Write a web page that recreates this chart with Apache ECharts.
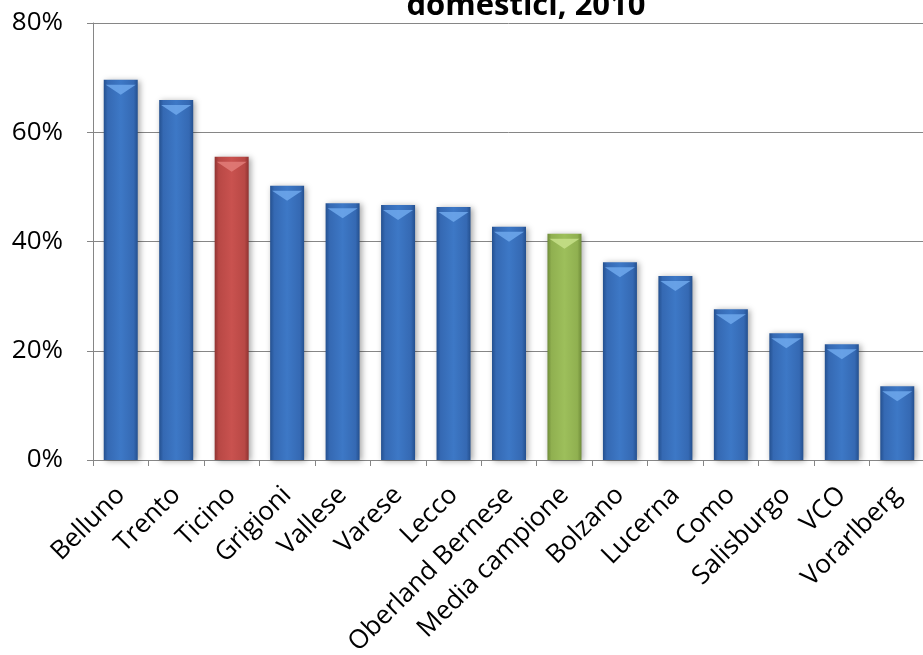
<!DOCTYPE html>
<html><head><meta charset="utf-8">
<script src="https://cdn.jsdelivr.net/npm/echarts@6/dist/echarts.min.js"></script>
<style>html,body{margin:0;padding:0;background:#fff}#c{width:923px;height:655px}</style>
</head><body><div id="c"></div>
<script>
const categories = ["Belluno","Trento","Ticino","Grigioni","Vallese","Varese","Lecco","Oberland Bernese","Media campione","Bolzano","Lucerna","Como","Salisburgo","VCO","Vorarlberg"];
const values = [69.6, 65.9, 55.5, 50.2, 47.0, 46.7, 46.3, 42.7, 41.4, 36.2, 33.7, 27.6, 23.2, 21.2, 13.5];
const yTicks = [0, 20, 40, 60, 80];
const titleText = "domestici, 2010";

function grad(dark, mid, light) {
  return {type:'linear', x:0, y:0, x2:1, y2:0, colorStops:[
    {offset:0, color:dark},{offset:0.12, color:mid},{offset:0.5, color:light},{offset:0.88, color:mid},{offset:1, color:dark}]};
}
const blue = grad('#24508f', '#3569b3', '#3d78c6');
const red = grad('#8f3331', '#b84845', '#c9524f');
const green = grad('#6f8c39', '#90b050', '#9dbf5b');
function colorFor(name){ return name==='Ticino'?red:(name==='Media campione'?green:blue); }
function capFor(name){ return name==='Ticino'?'#e27c79':(name==='Media campione'?'#c7e08a':'#6fa8ec'); }

const chart = echarts.init(document.getElementById('c'));
chart.setOption({
  animation:false,
  title:{text:titleText, left:521, textAlign:'center', top:-14, textStyle:{fontFamily:'Open Sans', fontWeight:'bold', fontSize:31, color:'#000'}},
  grid:{left:93, top:23, width:832, height:437, containLabel:false, outerBoundsMode:'none'},
  xAxis:{type:'category', data:categories, boundaryGap:true,
    axisLine:{lineStyle:{color:'#868686', width:1}},
    axisTick:{show:true, length:6, lineStyle:{color:'#868686'}},
    axisLabel:{rotate:45, interval:0, fontFamily:'Open Sans', fontSize:26, color:'#000', margin:31}},
  yAxis:{type:'value', min:0, max:80, interval:20,
    axisLine:{show:true, lineStyle:{color:'#868686'}},
    axisTick:{show:true, length:6, lineStyle:{color:'#868686'}},
    splitLine:{lineStyle:{color:'#868686', width:1}},
    axisLabel:{formatter:v=>yTicks.includes(v)?v+'%':'', fontFamily:'Open Sans', fontSize:26, color:'#000', margin:30}},
  series:[
    {type:'bar', barWidth:34, z:2,
     data:values.map((v,i)=>({value:v, itemStyle:{color:colorFor(categories[i])}})),
     itemStyle:{shadowColor:'rgba(0,0,0,0.35)', shadowBlur:6, shadowOffsetX:2, shadowOffsetY:1}},
    {type:'pictorialBar', z:3, symbol:'path://M0,0 L10,0 L5,3.2 Z', symbolSize:[30,10], symbolPosition:'end',
     data:values.map((v,i)=>({value:v, symbolOffset:[0,'50%'], itemStyle:{color:capFor(categories[i]), opacity:0.85}}))}
  ]
});
</script></body></html>
